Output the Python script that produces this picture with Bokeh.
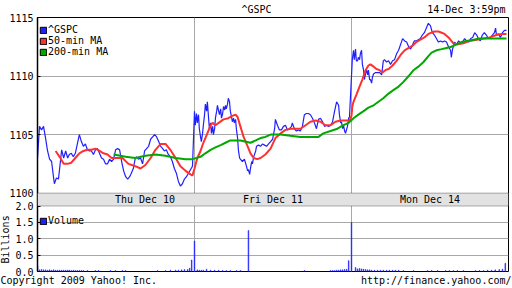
from bokeh.plotting import figure
from bokeh.models import (Range1d, LinearAxis, FixedTicker, Grid, Legend, LegendItem,
                          Label, BoxAnnotation, CustomJSTickFormatter, Title)
from bokeh.embed import file_html
from bokeh.resources import INLINE

# ---------------- data ----------------
days = ["Thu Dec 10", "Fri Dec 11", "Mon Dec 14"]
day_label_at = [267, 195, 195]          # minutes after open where each day label sits
session_minutes = 390                   # 9:30 - 16:00
chart_title = "^GSPC"
chart_time = "14-Dec 3:59pm"
footer_left = "Copyright 2009 Yahoo! Inc."
footer_right = "http://finance.yahoo.com/"

# ^GSPC, minutes after the open and index level
gspc_thu_t = [0, 5, 10, 15, 20, 25, 30, 35, 40, 42, 47, 52, 55, 60, 65, 70, 75, 79, 84, 89,
              94, 99, 104, 109, 114, 119, 124, 129, 134, 139, 144, 149, 154, 159, 164, 169,
              174, 179, 184, 189, 194, 199, 204, 209, 214, 219, 224, 229, 233, 238, 243, 246,
              251, 256, 261, 266, 271, 276, 281, 286, 291, 296, 301, 306, 311, 315, 320, 325,
              330, 335, 340, 345, 350, 355, 360, 365, 370, 375, 380, 385]
gspc_thu = [1103.0, 1105.7, 1105.4, 1105.7, 1104.7, 1103.6, 1102.9, 1102.7, 1101.3, 1100.8,
            1101.3, 1101.2, 1102.1, 1103.7, 1103.0, 1103.6, 1103.0, 1103.3, 1103.4, 1103.1,
            1103.4, 1104.2, 1105.0, 1104.4, 1104.0, 1104.2, 1103.7, 1103.6, 1103.6, 1103.3,
            1103.7, 1103.8, 1103.4, 1103.0, 1102.9, 1102.5, 1102.5, 1102.9, 1102.7, 1102.9,
            1103.7, 1103.8, 1103.7, 1102.7, 1101.9, 1101.4, 1101.2, 1101.4, 1101.7, 1102.1,
            1103.0, 1103.1, 1102.9, 1103.0, 1102.5, 1103.6, 1103.8, 1104.0, 1104.6, 1104.8,
            1105.0, 1104.8, 1104.4, 1104.0, 1103.8, 1103.6, 1103.7, 1103.3, 1103.1, 1102.7,
            1102.1, 1101.7, 1101.0, 1100.6, 1100.8, 1101.2, 1101.4, 1101.7, 1102.0, 1102.3]
gspc_fri_t = [0, 2, 5, 7, 10, 12, 15, 17, 20, 22, 25, 27, 30, 32, 35, 37, 40, 42, 45, 47, 50,
              52, 55, 57, 60, 62, 65, 67, 70, 72, 75, 77, 79, 82, 84, 87, 89, 92, 94, 97, 99,
              102, 104, 107, 109, 112, 114, 119, 124, 129, 132, 134, 137, 139, 142, 144, 147,
              152, 154, 159, 164, 169, 174, 179, 184, 189, 194, 199, 201, 206, 211, 216, 221,
              226, 231, 236, 241, 243, 248, 253, 258, 263, 268, 273, 278, 283, 288, 293, 298,
              303, 308, 313, 318, 323, 328, 333, 338, 343, 348, 353, 358, 360, 363, 365, 368,
              370, 373, 375, 380, 383, 385]
gspc_fri = [1107.0, 1105.8, 1106.8, 1106.0, 1106.7, 1105.5, 1104.8, 1104.4, 1105.1, 1105.8,
            1106.7, 1107.6, 1107.0, 1107.8, 1106.4, 1105.5, 1106.0, 1105.1, 1105.7, 1105.0,
            1105.5, 1106.4, 1107.0, 1107.5, 1107.0, 1106.7, 1107.2, 1106.4, 1106.8, 1107.4,
            1107.1, 1107.5, 1107.2, 1107.6, 1108.1, 1107.8, 1107.0, 1106.5, 1106.1, 1106.4,
            1106.0, 1106.3, 1105.5, 1104.7, 1103.7, 1103.0, 1102.9, 1102.7, 1102.9, 1102.3,
            1101.9, 1102.0, 1101.6, 1102.1, 1102.7, 1102.5, 1103.1, 1103.6, 1104.0, 1104.1,
            1104.0, 1104.2, 1104.1, 1104.0, 1104.2, 1104.4, 1104.6, 1105.5, 1106.3, 1105.8,
            1105.4, 1105.4, 1105.7, 1105.8, 1105.4, 1105.5, 1105.7, 1106.0, 1105.5, 1105.3,
            1105.4, 1105.3, 1105.7, 1106.7, 1106.8, 1106.8, 1106.7, 1106.4, 1106.0, 1105.5,
            1106.3, 1106.4, 1106.1, 1105.7, 1105.8, 1105.7, 1105.8, 1106.1, 1107.0, 1107.8,
            1107.5, 1106.7, 1106.0, 1106.1, 1105.5, 1105.8, 1105.3, 1105.1, 1105.7, 1106.4,
            1106.5]
gspc_mon_t = [2, 5, 7, 10, 12, 15, 17, 20, 22, 25, 27, 30, 32, 35, 37, 40, 42, 45, 47, 50, 52,
              55, 60, 65, 70, 75, 79, 82, 87, 92, 97, 102, 107, 112, 117, 122, 127, 132, 137,
              142, 147, 152, 156, 161, 166, 171, 176, 181, 186, 191, 196, 201, 206, 211, 216,
              221, 226, 231, 236, 241, 246, 248, 251, 256, 261, 266, 271, 276, 281, 286, 291,
              296, 301, 306, 311, 315, 320, 325, 330, 335, 340, 345, 350, 355, 358, 360, 365,
              370, 375, 380, 385]
gspc_mon = [1111.4, 1112.2, 1111.4, 1112.3, 1111.3, 1111.3, 1111.6, 1111.4, 1111.9, 1112.2,
            1111.0, 1110.5, 1109.7, 1110.2, 1110.6, 1110.1, 1110.5, 1109.7, 1109.7, 1109.4,
            1109.9, 1110.2, 1110.3, 1110.3, 1110.3, 1110.1, 1111.3, 1111.4, 1111.2, 1111.3,
            1111.0, 1111.3, 1111.4, 1111.9, 1112.2, 1112.7, 1113.2, 1113.0, 1112.9, 1112.5,
            1112.3, 1112.7, 1113.0, 1113.0, 1113.1, 1113.2, 1113.5, 1113.7, 1114.1, 1114.5,
            1114.3, 1113.7, 1113.5, 1113.2, 1112.9, 1113.0, 1112.9, 1113.0, 1112.9, 1112.5,
            1112.2, 1111.6, 1112.3, 1112.9, 1112.7, 1113.0, 1112.8, 1112.9, 1113.2, 1113.0,
            1112.9, 1113.2, 1113.3, 1113.7, 1113.5, 1113.2, 1113.0, 1113.5, 1113.7, 1113.5,
            1113.2, 1113.3, 1113.5, 1113.7, 1114.1, 1113.5, 1113.6, 1113.3, 1113.7, 1113.9,
            1113.9]

# 50-minute moving average
ma50_thu_t = [45, 55, 65, 75, 84, 94, 104, 114, 124, 134, 144, 154, 164, 174, 184, 194, 211,
              226, 243, 256, 268, 281, 293, 306, 318, 330, 343, 355, 368, 380, 385]
ma50_thu = [1103.6, 1103.1, 1102.5, 1102.5, 1102.6, 1103.0, 1103.4, 1103.6, 1103.7, 1103.7,
            1103.8, 1103.6, 1103.4, 1103.3, 1103.0, 1103.0, 1103.0, 1102.5, 1102.3, 1102.1,
            1102.4, 1103.0, 1103.7, 1104.2, 1104.2, 1103.7, 1103.0, 1102.3, 1101.9, 1101.6,
            1101.5]
ma50_fri_t = [0, 7, 15, 22, 32, 40, 45, 52, 60, 72, 84, 94, 102, 107, 114, 122, 132, 139, 147,
              156, 164, 176, 189, 201, 214, 226, 238, 251, 263, 276, 288, 301, 313, 325, 338,
              350, 363, 375, 385]
ma50_fri = [1102.1, 1103.0, 1103.6, 1104.3, 1105.1, 1105.8, 1106.0, 1105.8, 1106.0, 1106.3,
            1106.4, 1106.6, 1106.7, 1106.5, 1105.7, 1104.8, 1104.0, 1103.4, 1103.0, 1102.9,
            1103.0, 1103.3, 1103.8, 1104.7, 1105.1, 1105.4, 1105.5, 1105.5, 1105.5, 1105.8,
            1106.1, 1106.2, 1106.1, 1105.8, 1105.8, 1106.1, 1106.2, 1106.2, 1106.2]
ma50_mon_t = [0, 2, 5, 12, 20, 27, 35, 42, 47, 55, 62, 70, 77, 84, 92, 102, 112, 122, 132, 142,
              152, 161, 171, 181, 191, 206, 216, 224, 231, 241, 248, 253, 261, 278, 293, 311,
              328, 343, 360, 373, 385]
ma50_mon = [1106.6, 1107.4, 1107.8, 1108.4, 1109.1, 1109.7, 1110.5, 1110.9, 1111.0, 1110.8,
            1110.6, 1110.5, 1110.3, 1110.5, 1110.6, 1110.9, 1111.3, 1111.8, 1112.2, 1112.4,
            1112.6, 1112.9, 1113.1, 1113.3, 1113.6, 1113.8, 1113.8, 1113.7, 1113.6, 1113.3,
            1113.0, 1112.8, 1112.7, 1112.8, 1113.0, 1113.1, 1113.2, 1113.3, 1113.5, 1113.6,
            1113.6]

# 200-minute moving average
ma200_thu_t = [189, 219, 243, 268, 293, 318, 343, 368, 385]
ma200_thu = [1103.3, 1103.1, 1103.0, 1103.2, 1103.3, 1103.2, 1103.0, 1102.9, 1102.9]
ma200_fri_t = [15, 27, 40, 52, 65, 77, 89, 114, 139, 152, 164, 176, 189, 214, 238, 263, 308,
               320, 338, 355, 370, 383]
ma200_fri = [1103.1, 1103.4, 1103.7, 1103.9, 1104.1, 1104.3, 1104.5, 1104.5, 1104.3, 1104.5,
             1104.7, 1104.8, 1105.0, 1105.0, 1104.9, 1104.8, 1104.8, 1105.1, 1105.3, 1105.5,
             1105.8, 1106.0]
ma200_mon_t = [5, 17, 30, 42, 55, 67, 79, 92, 104, 117, 129, 142, 154, 166, 179, 191, 199, 211,
               224, 236, 248, 261, 273, 286, 303, 318, 335, 353, 385]
ma200_mon = [1106.4, 1106.7, 1107.0, 1107.3, 1107.5, 1107.8, 1108.1, 1108.5, 1108.8, 1109.1,
             1109.5, 1110.0, 1110.5, 1110.8, 1111.2, 1111.7, 1112.0, 1112.2, 1112.3, 1112.4,
             1112.5, 1112.7, 1112.9, 1113.0, 1113.1, 1113.2, 1113.2, 1113.2, 1113.2]

# Volume, billions of shares
vol_thu_t = [0, 5, 10, 15, 20, 25, 30, 35, 40, 45, 50, 55, 60, 65, 70, 75, 79, 84, 89, 94, 99,
             104, 109, 114, 124, 144, 152, 181, 194, 211, 219, 298, 318, 330, 343, 350, 358,
             365, 373, 378, 383]
vol_thu = [0.17, 0.05, 0.06, 0.05, 0.05, 0.04, 0.05, 0.04, 0.05, 0.04, 0.04, 0.04, 0.04, 0.04,
           0.04, 0.04, 0.04, 0.03, 0.04, 0.03, 0.03, 0.03, 0.03, 0.03, 0.03, 0.03, 0.03, 0.03,
           0.03, 0.03, 0.03, 0.03, 0.03, 0.04, 0.04, 0.04, 0.05, 0.06, 0.06, 0.10, 0.35]
vol_fri_t = [0, 7, 12, 17, 22, 30, 40, 50, 60, 70, 79, 89, 104, 114, 134, 273, 338, 343, 348,
             353, 358, 363, 368, 373, 378, 383]
vol_fri = [0.93, 0.05, 0.04, 0.04, 0.04, 0.07, 0.04, 0.04, 0.04, 0.03, 0.03, 0.03, 0.03, 0.03,
           1.25, 0.03, 0.03, 0.03, 0.03, 0.04, 0.04, 0.05, 0.05, 0.06, 0.07, 0.33]
vol_mon_t = [0, 10, 15, 20, 25, 30, 35, 40, 45, 50, 57, 65, 72, 79, 87, 94, 102, 109, 117, 129,
             154, 189, 199, 214, 234, 243, 253, 263, 278, 308, 318, 328, 338, 348, 357, 367,
             375, 382]
vol_mon = [1.50, 0.12, 0.08, 0.09, 0.08, 0.07, 0.06, 0.05, 0.05, 0.04, 0.04, 0.04, 0.04, 0.04,
           0.04, 0.04, 0.04, 0.04, 0.04, 0.03, 0.03, 0.03, 0.03, 0.03, 0.03, 0.03, 0.03, 0.03,
           0.03, 0.03, 0.03, 0.03, 0.04, 0.04, 0.05, 0.06, 0.07, 0.25]

price_ticks = [1100, 1105, 1110, 1115]
vol_ticks = [0.0, 0.5, 1.0, 1.5, 2.0]
series_names = ["^GSPC", "50-min MA", "200-min MA"]
vol_name = "Volume"
vol_unit = "Billions"

# ---------------- layout / style ----------------
W, H = 512, 288
B_LEFT, B_RIGHT, B_TOP, B_BOTTOM = 37, 4, 15, 17
PRICE_PX, BAND_PX, VOL_PX = 177, 13, 66
FONT = "DejaVu Sans Mono"
FS = "10px"
CHAR_W = 6.02
BLUE, RED, GREEN = "#2020ff", "#ff3030", "#00a800"
GRID = "#a8a8a8"
NAN = float("nan")


def join(day_lists):
    out = []
    for d, ts in enumerate(day_lists):
        out += [d * session_minutes + t for t in ts]
    return out


px_t = join([gspc_thu_t, gspc_fri_t, gspc_mon_t])
px_v = gspc_thu + gspc_fri + gspc_mon
m50_t = join([ma50_thu_t, ma50_fri_t, ma50_mon_t])
m50_v = ma50_thu + ma50_fri + ma50_mon
m200_t = join([ma200_thu_t, ma200_fri_t, ma200_mon_t])
m200_v = ma200_thu + ma200_fri + ma200_mon
v_t = join([vol_thu_t, vol_fri_t, vol_mon_t])
v_v = vol_thu + vol_fri + vol_mon

n_days = len(days)
x_span = n_days * session_minutes
frame_w = W - B_LEFT - B_RIGHT
p_lo, p_hi = price_ticks[0], price_ticks[-1]
units_per_px = (p_hi - p_lo) / PRICE_PX
y_start = p_lo - (BAND_PX + VOL_PX) * units_per_px
vol_lo, vol_hi = vol_ticks[0], vol_ticks[-1]
vol_top = vol_hi * (PRICE_PX + BAND_PX + VOL_PX) / VOL_PX


def canvas_to_x(px):
    return (px - B_LEFT) / frame_w * x_span


def vol_to_price_units(v):
    return y_start + (v - vol_lo) / (vol_top - vol_lo) * (p_hi - y_start)


p = figure(width=W, height=H, x_range=Range1d(0, x_span),
           y_range=Range1d(y_start, p_hi), x_axis_type=None, y_axis_location="left",
           output_backend="svg", toolbar_location=None,
           min_border_left=B_LEFT, min_border_right=B_RIGHT,
           min_border_top=B_TOP, min_border_bottom=B_BOTTOM,
           outline_line_color="black", background_fill_color="white",
           border_fill_color="white")
p.title.visible = False
p.extra_y_ranges = {"vol": Range1d(vol_lo, vol_top)}

# left axis: price ticks and volume ticks (volume values shown for the lower panel)
ax = p.yaxis[0]
ax.ticker = FixedTicker(ticks=price_ticks + [vol_to_price_units(v) for v in vol_ticks])
ax.formatter = CustomJSTickFormatter(
    args=dict(y0=y_start, y1=p_hi, vtop=vol_top, plo=p_lo),
    code="""
    if (tick < plo - 1e-6) {
        const v = (tick - y0) / (y1 - y0) * vtop;
        return (Math.abs(v) < 1e-6 ? 0 : v).toFixed(1);
    }
    return tick.toFixed(0);
    """)
ax.major_tick_in = 3
ax.major_tick_out = 0
ax.minor_tick_line_color = None
ax.axis_line_color = "black"
ax.axis_line_width = 1.5
ax.major_label_standoff = 4
ax.major_label_text_font = FONT
ax.major_label_text_font_size = FS
ax.major_label_text_color = "black"

# "Billions" caption beside the volume panel (thin side title)
p.add_layout(Title(text=vol_unit, align="left", offset=8, standoff=-11,
                   vertical_align="middle", text_font=FONT, text_font_size=FS,
                   text_font_style="normal", text_color="black"), "left")

# top and bottom captions as axis labels
lab_fmt = "return labels[index];"
top_ax = LinearAxis(
    ticker=FixedTicker(ticks=[canvas_to_x(W / 2),
                              canvas_to_x(W - 7 - len(chart_time) * CHAR_W / 2)]),
    formatter=CustomJSTickFormatter(args=dict(labels=[chart_title, chart_time]), code=lab_fmt),
    axis_line_color=None, major_tick_line_color=None, minor_tick_line_color=None,
    major_tick_in=0, major_tick_out=0, major_label_standoff=3,
    major_label_text_font=FONT, major_label_text_font_size=FS, major_label_text_color="black")
p.add_layout(top_ax, "above")
bot_ax = LinearAxis(
    ticker=FixedTicker(ticks=[canvas_to_x(len(footer_left) * CHAR_W / 2),
                              canvas_to_x(W - 1 - len(footer_right) * CHAR_W / 2)]),
    formatter=CustomJSTickFormatter(args=dict(labels=[footer_left, footer_right]), code=lab_fmt),
    axis_line_color=None, major_tick_line_color=None, minor_tick_line_color=None,
    major_tick_in=0, major_tick_out=0, major_label_standoff=3,
    major_label_text_font=FONT, major_label_text_font_size=FS, major_label_text_color="black")
p.add_layout(bot_ax, "below")

# grids
p.ygrid.ticker = FixedTicker(ticks=price_ticks)
p.ygrid.grid_line_color = GRID
p.add_layout(Grid(dimension=0, ticker=FixedTicker(
    ticks=[d * session_minutes for d in range(1, n_days)]), grid_line_color=GRID))
p.add_layout(Grid(dimension=1, y_range_name="vol",
                  ticker=FixedTicker(ticks=vol_ticks[1:-1]), grid_line_color=GRID))

# date band between the panels
p.add_layout(BoxAnnotation(top=p_lo, bottom=p_lo - BAND_PX * units_per_px,
                           fill_color="#e2e2e2", fill_alpha=1.0,
                           line_color="black", line_width=1))
band_mid = p_lo - BAND_PX * units_per_px / 2
for d, name in enumerate(days):
    p.add_layout(Label(x=d * session_minutes + day_label_at[d], y=band_mid, text=name,
                       text_align="center", text_baseline="middle",
                       text_font=FONT, text_font_size=FS, text_color="black"))

# price lines
p.line(px_t, px_v, line_color=BLUE, line_width=1.2)
p.line(m50_t, m50_v, line_color=RED, line_width=2)
p.line(m200_t, m200_v, line_color=GREEN, line_width=2)

# volume bars
p.vbar(x=v_t, top=v_v, bottom=0, width=1.6, y_range_name="vol",
       fill_color=BLUE, line_color=BLUE, line_width=0.6)

# legends with square swatches (swatch renderers hold no visible geometry)
sw = [p.quad(left=[NAN], right=[NAN], top=[NAN], bottom=[NAN], fill_color=c,
             line_color="black", line_width=1) for c in (BLUE, RED, GREEN)]
sw_vol = p.quad(left=[NAN], right=[NAN], top=[NAN], bottom=[NAN], fill_color=BLUE,
                line_color="black", line_width=1)
common = dict(glyph_width=8, glyph_height=8, label_standoff=1, label_height=10, spacing=0,
              padding=0, margin=0, background_fill_alpha=0, border_line_color=None,
              label_text_font=FONT, label_text_font_size=FS, label_text_color="black")
leg = Legend(items=[LegendItem(label=n, renderers=[r]) for n, r in zip(series_names, sw)],
             location=(2, 214), **common)
leg_v = Legend(items=[LegendItem(label=vol_name, renderers=[sw_vol])], location=(2, 45), **common)
p.add_layout(leg)
p.add_layout(leg_v)

open("out.html", "w").write(file_html(p, INLINE))
